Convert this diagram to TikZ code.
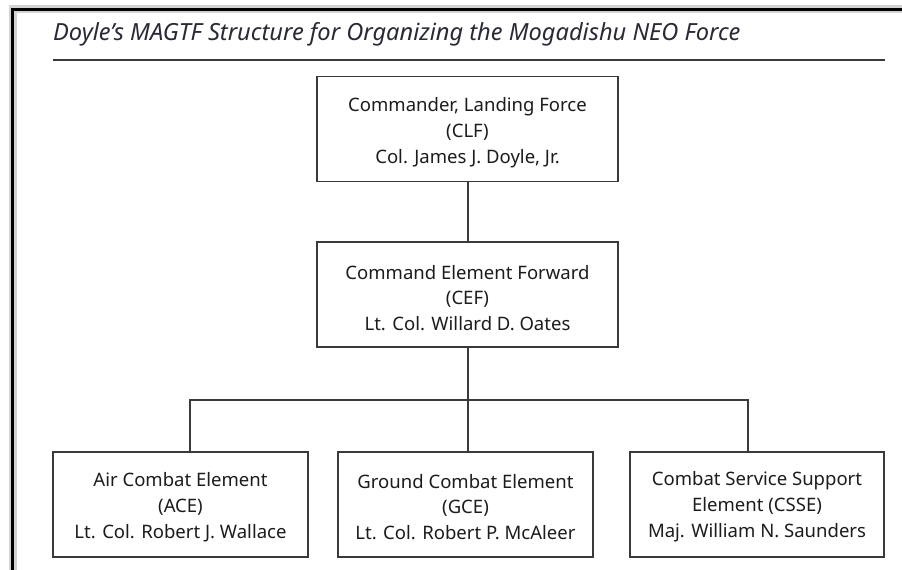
\documentclass[tikz,border=0pt]{standalone}
\usepackage{fontspec}
\setmainfont{Noto Sans}
\definecolor{linec}{HTML}{3A3A3A}
\definecolor{textc}{HTML}{1C1C1C}
\definecolor{titlec}{HTML}{2A2A36}
\tikzset{
  orgtext/.style={align=center, inner sep=0pt, text=textc, font=\fontsize{18.6}{26}\selectfont},
  orgbox/.style={draw=linec, line width=1.1bp, fill=white, inner sep=0pt, minimum height=105bp},
  conn/.style={draw=linec, line width=1.1bp},
}
\begin{document}
\begin{tikzpicture}[x=1bp,y=-1bp]
\useasboundingbox (0,0) rectangle (902,570);
\fill[white] (0,0) rectangle (902,570);
% frame
\draw[gray!35, line width=8bp] (12.5,570) -- (12.5,9.5) -- (902,9.5);
\draw[black, line width=3.6bp] (12.5,570) -- (12.5,9.5) -- (902,9.5);
% title
\node[anchor=base west, inner sep=0pt, text=titlec, font=\fontsize{23.7}{26}\selectfont\itshape] (title) at (53,40.5) {Doyle’s MAGTF Structure for Organizing the Mogadishu NEO Force};
\coordinate (ruleL) at (53,60);
\coordinate (ruleR) at (885,60);
\draw[linec, line width=1.1bp] (ruleL) -- (ruleR);
% boxes
\node[orgbox, minimum width=301bp, label={[orgtext, yshift=-3.5bp]center:{Commander, Landing Force\\(CLF)\\Col. James J. Doyle, Jr.}}] (clf) at (467.5,129) {};
\node[orgbox, minimum width=301bp, label={[orgtext, yshift=-3.5bp]center:{Command Element Forward\\(CEF)\\Lt. Col. Willard D. Oates}}] (cef) at (467.5,294.5) {};
\node[orgbox, minimum width=255bp, label={[orgtext, yshift=-2.5bp]center:{Air Combat Element\\(ACE)\\Lt. Col. Robert J. Wallace}}] (ace) at (180.5,504.5) {};
\node[orgbox, minimum width=255bp, label={[orgtext, yshift=-2.5bp]center:{Ground Combat Element\\(GCE)\\Lt. Col. Robert P. McAleer}}] (gce) at (465.5,504.5) {};
\node[orgbox, minimum width=254bp, label={[orgtext, yshift=-2.5bp]center:{Combat Service Support\\Element (CSSE)\\Maj. William N. Saunders}}] (csse) at (757,504.5) {};
% connectors
\coordinate (busL) at (190,400);
\coordinate (busM) at (468,400);
\coordinate (busR) at (748,400);
\draw[conn] (clf.south -| busM) -- (cef.north -| busM);
\draw[conn] (cef.south -| busM) -- (gce.north -| busM);
\draw[conn] (busL |- ace.north) -- (busL) -- (busR) -- (busR |- csse.north);
\end{tikzpicture}
\end{document}
